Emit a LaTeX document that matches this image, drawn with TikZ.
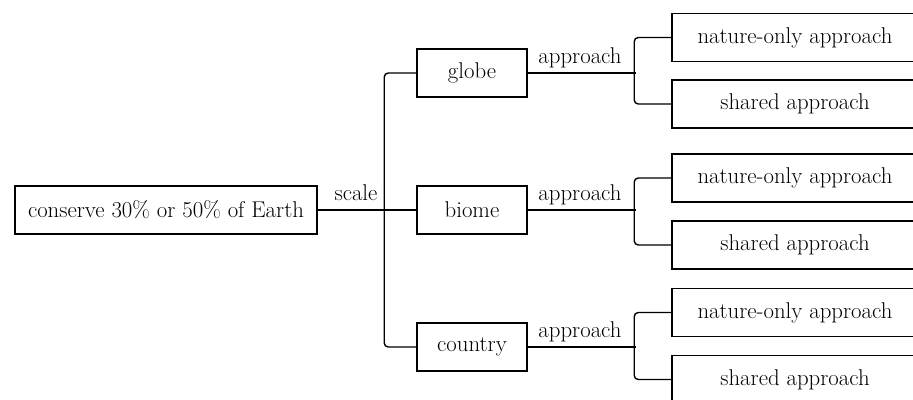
\documentclass[tikz,border=0pt]{standalone}
\begin{document}
\begin{tikzpicture}[x=1pt,y=-1pt,
  every node/.style={font=\fontsize{22.8}{27}\selectfont},
  box/.style={draw, line width=1.5pt, rectangle, inner sep=0pt, minimum height=48pt},
  rootbox/.style={box, minimum width=302pt},
  midbox/.style={box, minimum width=110pt},
  leafbox/.style={box, minimum width=246pt},
  conn/.style={line width=1.4pt},
  bracket/.style={line width=1.4pt, rounded corners=4pt},
  lbl/.style={anchor=base, inner sep=0pt}
]
\useasboundingbox (0,0) rectangle (913,399);
\clip (0,0) rectangle (913,399);

\node[rootbox] (root) at (166,210) {conserve 30\% or 50\% of Earth};

\node[midbox] (globe)   at (472,73)  {globe};
\node[midbox] (biome)   at (472,210) {biome};
\node[midbox] (country) at (472,347) {country};

\node[leafbox] (n1) at (795,37.5) {nature-only approach};
\node[leafbox] (s1) at (795,104)  {shared approach};
\node[leafbox] (n2) at (795,178)  {nature-only approach};
\node[leafbox] (s2) at (795,245)  {shared approach};
\node[leafbox] (n3) at (795,312.5){nature-only approach};
\node[leafbox] (s3) at (795,379.5){shared approach};

% scale
\draw[conn] (root.east) -- (biome.west);
\draw[bracket] (globe.west) -- ++(-32,0) |- (country.west);
\node[lbl] (scl) at (356,200) {scale};

% approach connectors
\draw[conn] (globe.east) -- ++(108,0);
\draw[bracket] (n1.west) -- ++(-37,0) |- (s1.west);
\node[lbl] (a1) at (580,63) {approach};

\draw[conn] (biome.east) -- ++(108,0);
\draw[bracket] (n2.west) -- ++(-37,0) |- (s2.west);
\node[lbl] (a2) at (580,200) {approach};

\draw[conn] (country.east) -- ++(108,0);
\draw[bracket] (n3.west) -- ++(-37,0) |- (s3.west);
\node[lbl] (a3) at (580,337) {approach};
\end{tikzpicture}
\end{document}
